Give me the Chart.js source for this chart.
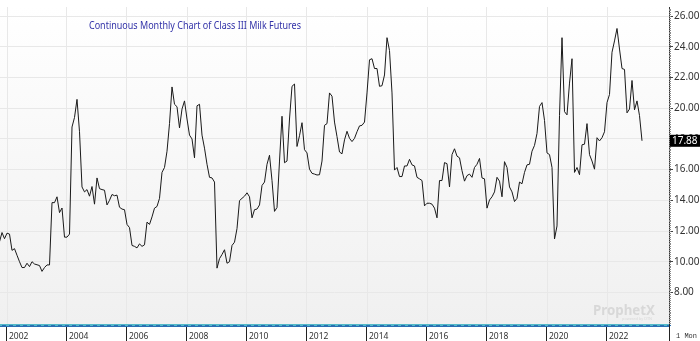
<!DOCTYPE html>
<html>
<head>
<meta charset="utf-8">
<script src="https://cdn.jsdelivr.net/npm/chart.js@4.4.1/dist/chart.umd.min.js"></script>
<style>
  html, body { margin: 0; padding: 0; background: #fff; }
</style>
</head>
<body>
<canvas id="graficoLeche" width="700" height="341"></canvas>
<script>
// primer dato: oct 2001 (meses antes de ene 2002)
const firstMonthOffset = -3;

// precios mensuales (continuo Class III), oct 2001 .. feb 2023
const prices = [
  11.3, 11.9, 11.5,
  11.86, 11.8, 10.74, 10.85, 10.42, 10.0, 9.62, 9.62, 9.9, 9.68, 10.0, 9.85,
  9.8, 9.75, 9.37, 9.62, 9.79, 9.79, 13.85, 13.85, 14.23, 13.2, 13.5, 11.6,
  11.6, 11.8, 18.78, 19.4, 20.58, 18.47, 14.87, 14.55, 14.7, 14.27, 14.9, 13.75,
  15.46, 14.76, 14.7, 14.66, 13.7, 14.0, 14.38, 14.3, 14.34, 13.55, 13.43, 13.39,
  12.43, 12.22, 11.06, 11.0, 10.9, 11.16, 11.0, 11.1, 12.58, 12.43, 12.92, 13.49,
  13.6, 14.13, 15.82, 16.14, 17.2, 19.0, 21.39, 20.26, 20.1, 18.72, 19.95, 20.48,
  19.3, 18.25, 18.0, 16.77, 20.16, 20.26, 18.25, 17.4, 16.35, 15.5, 15.46, 15.19,
  9.58, 10.2, 10.47, 10.78, 9.9, 10.0, 11.06, 11.27, 12.16, 13.98, 14.13, 14.27,
  14.49, 14.23, 12.86, 13.39, 13.43, 13.7, 14.97, 15.19, 16.35, 16.94, 15.29, 13.28,
  13.53, 16.56, 19.48, 16.45, 16.56, 19.3, 21.43, 21.58, 17.51, 18.21, 19.06, 17.3,
  17.09, 16.03, 15.76, 15.71, 15.65, 15.67, 16.56, 18.89, 19.0, 21.0, 20.79, 19.1,
  18.15, 17.15, 17.03, 17.94, 18.5, 18.04, 17.83, 18.04, 18.47, 18.85, 18.89, 19.1,
  21.0, 23.16, 23.23, 22.59, 22.59, 21.43, 21.47, 22.17, 24.6, 23.76, 21.0, 15.97,
  16.14, 15.55, 15.55, 16.24, 16.24, 16.67, 16.31, 16.24, 15.5, 15.4, 15.29, 13.64,
  13.81, 13.81, 13.75, 13.49, 12.86, 15.29, 15.29, 16.46, 16.39, 14.87, 16.98, 17.36,
  16.88, 16.77, 15.93, 15.25, 15.61, 15.71, 15.5, 16.14, 16.35, 16.73, 15.46, 15.4,
  13.49, 14.02, 14.23, 14.55, 15.5, 15.25, 14.23, 16.52, 16.14, 14.87, 14.55, 13.92,
  14.13, 15.19, 15.08, 15.82, 16.31, 16.35, 17.2, 17.58, 18.36, 20.12, 20.37, 19.21,
  17.09, 16.98, 16.14, 11.48, 12.33, 19.52, 24.6, 19.78, 19.57, 21.64, 23.23, 15.82,
  16.14, 15.67, 17.62, 17.66, 19.0, 16.98, 16.56, 16.03, 18.08, 17.87, 18.08, 18.47,
  20.37, 20.9, 23.65, 24.39, 25.2, 23.86, 22.59, 22.53, 19.7, 19.95, 21.81, 19.9,
  20.48, 19.52, 17.88
];

const yearLabels = ['2002', '2004', '2006', '2008', '2010', '2012', '2014', '2016', '2018', '2020', '2022'];
const priceTicks = [8, 10, 12, 14, 16, 18, 20, 22, 24, 26];
const lastPrice = 17.88;
const chartTitle = 'Continuous Monthly Chart of Class III Milk Futures';
const periodLabel = '1 Mon';

// meses desde ene 2002
const months = prices.map((_, i) => i + firstMonthOffset);

const decoraciones = {
  id: 'decoraciones',
  beforeDraw(chart) {
    const { ctx, chartArea: a } = chart;
    const g = ctx.createLinearGradient(0, a.top, 0, a.bottom);
    g.addColorStop(0, '#ffffff');
    g.addColorStop(1, '#f0f0f0');
    ctx.save();
    ctx.fillStyle = g;
    ctx.fillRect(a.left, a.top, a.right - a.left, a.bottom - a.top);
    ctx.restore();
  },
  afterDraw(chart) {
    const { ctx, chartArea: a, scales } = chart;
    const W = chart.width, H = chart.height;
    ctx.save();

    // titulo dentro del grafico
    ctx.fillStyle = '#3232a8';
    ctx.font = '10px "Noto Sans", "Open Sans", sans-serif';
    ctx.textBaseline = 'alphabetic';
    ctx.fillText(chartTitle, 89, 29, 212);

    // marca de agua
    ctx.fillStyle = '#d8d8d8';
    ctx.font = 'bold 14px "Noto Sans", sans-serif';
    ctx.fillText('ProphetX', 593, 315, 62);
    ctx.font = '4px "Noto Sans", sans-serif';
    ctx.fillText('powered by DTN', 622, 320, 30);

    // franja inferior
    ctx.fillStyle = '#52b8c8';
    ctx.fillRect(a.left, a.bottom, a.right - a.left, 3);
    ctx.fillStyle = '#2a6fb2';
    for (let x = a.left + 2; x < a.right; x += 7) ctx.fillRect(x, a.bottom + 1, 4, 1);
    ctx.fillRect(a.left, a.bottom + 2, a.right - a.left, 1);

    // marcas de año
    ctx.strokeStyle = '#222';
    ctx.lineWidth = 1;
    scales.x.ticks.forEach(t => {
      const px = Math.round(scales.x.getPixelForValue(t.value)) - 0.5;
      ctx.beginPath();
      ctx.moveTo(px, a.bottom + 3);
      ctx.lineTo(px, H);
      ctx.stroke();
    });
    ctx.beginPath();
    ctx.moveTo(Math.round(a.right) + 0.5, a.bottom);
    ctx.lineTo(Math.round(a.right) + 0.5, H);
    ctx.stroke();

    // marcas menores del eje de precios
    ctx.strokeStyle = '#8a8a8a';
    const y = scales.y;
    for (let v = 6; v <= 26.6; v += 0.125) {
      const py = Math.round(y.getPixelForValue(v)) + 0.5;
      ctx.beginPath();
      ctx.moveTo(a.right, py);
      ctx.lineTo(a.right + 2, py);
      ctx.stroke();
    }

    // ultimo precio
    const py = y.getPixelForValue(lastPrice);
    ctx.fillStyle = '#000';
    ctx.fillRect(a.right + 1, py - 6, W - a.right - 1, 12);
    ctx.fillStyle = '#fff';
    ctx.font = '10px "Noto Sans", sans-serif';
    ctx.textBaseline = 'middle';
    ctx.fillText(lastPrice.toFixed(2), a.right + 3, py + 0.5);

    // periodo
    ctx.fillStyle = '#333';
    ctx.font = '7px "Liberation Mono", monospace';
    ctx.fillText(periodLabel, a.right + 7, H - 5);

    ctx.restore();
  }
};

const ctx = document.getElementById('graficoLeche').getContext('2d');
new Chart(ctx, {
  type: 'line',
  data: {
    labels: months,
    datasets: [{
      data: prices,
      borderColor: '#1a1a1a',
      borderWidth: 1,
      pointRadius: 0,
      tension: 0,
      fill: false
    }]
  },
  options: {
    responsive: false,
    devicePixelRatio: 1,
    animation: false,
    layout: { padding: 0 },
    plugins: {
      legend: { display: false },
      tooltip: { enabled: false },
      title: { display: false }
    },
    scales: {
      x: {
        type: 'linear',
        min: -2.8,
        max: 264.8,
        afterBuildTicks: s => { s.ticks = yearLabels.map((_, i) => ({ value: i * 24 })); },
        afterFit: s => { s.height = 17; },
        grid: { color: '#e8e8e8', drawTicks: false },
        border: { display: false },
        ticks: {
          align: 'start',
          labelOffset: 2,
          padding: 7,
          color: '#333',
          maxRotation: 0,
          autoSkip: false,
          font: { family: '"Noto Sans", sans-serif', size: 8.5 },
          callback: v => yearLabels[Math.round(v / 24)]
        }
      },
      y: {
        position: 'right',
        min: 5.94,
        max: 26.6,
        afterBuildTicks: s => { s.ticks = priceTicks.map(v => ({ value: v })); },
        afterFit: s => { s.width = 31; },
        grid: { color: '#e8e8e8', tickColor: '#444', tickLength: 4 },
        border: { display: true, color: '#333' },
        ticks: {
          padding: 1,
          color: '#333',
          font: { family: '"Noto Sans", sans-serif', size: 10 },
          callback: v => v.toFixed(2)
        }
      }
    }
  },
  plugins: [decoraciones]
});
</script>
</body>
</html>
